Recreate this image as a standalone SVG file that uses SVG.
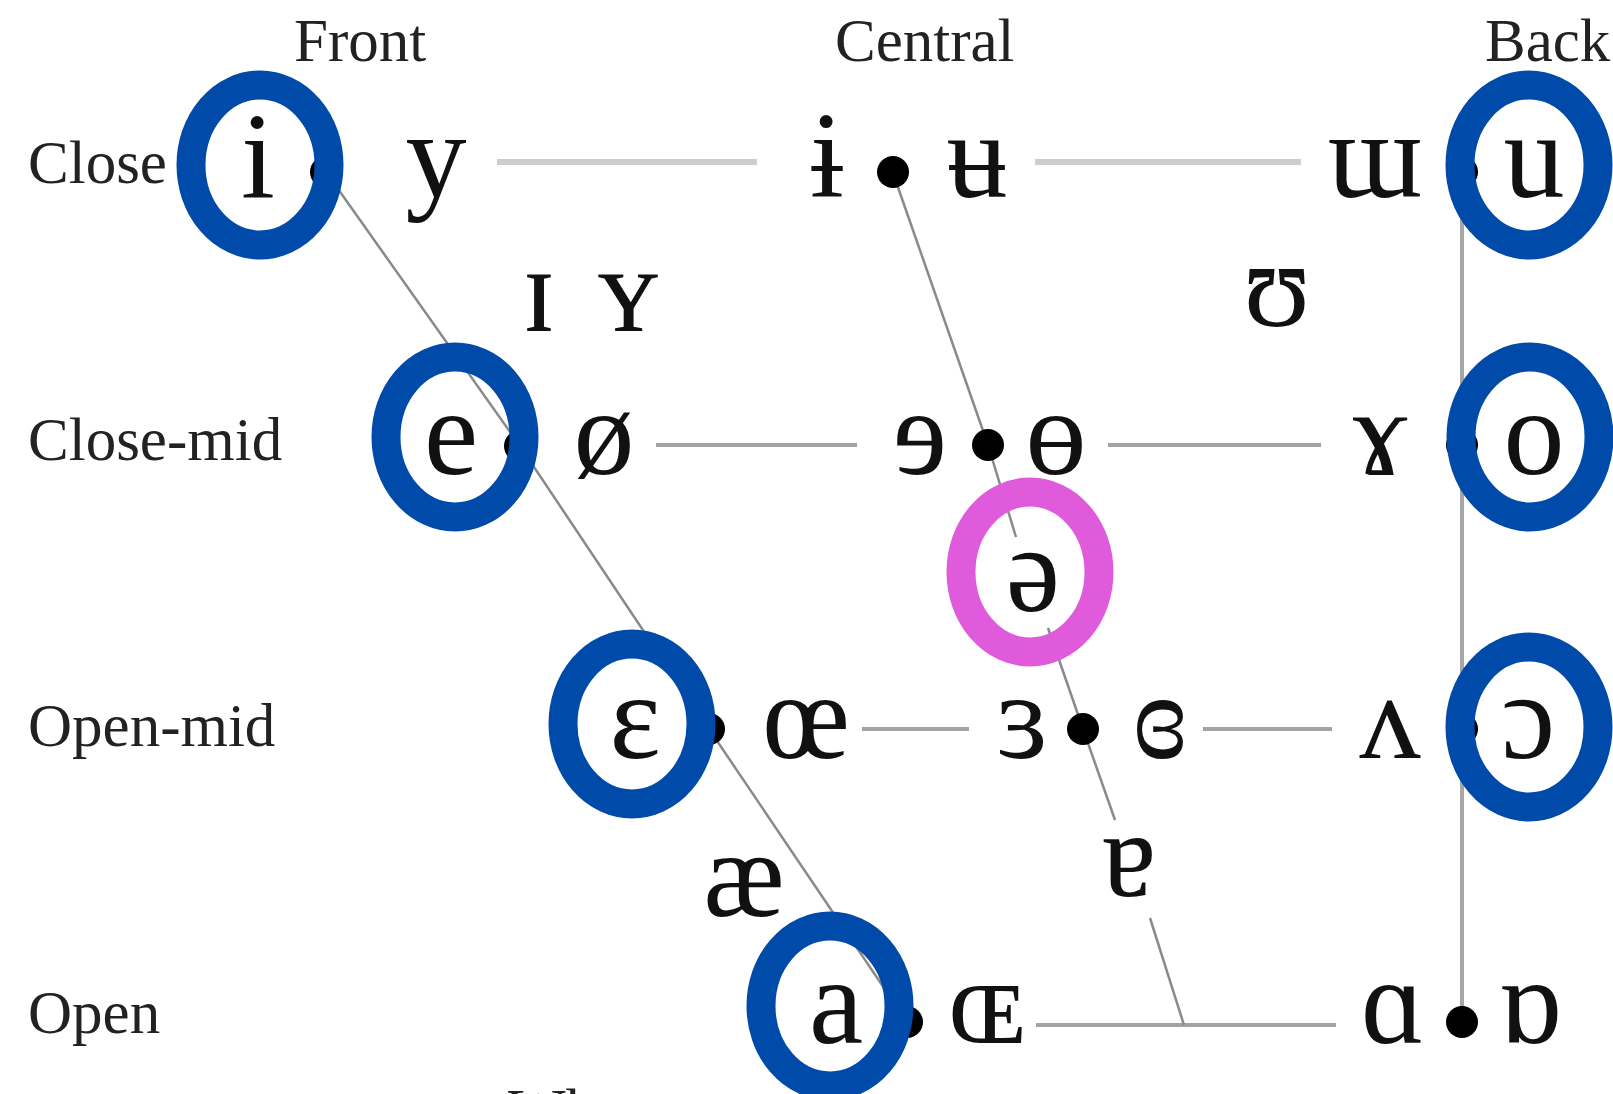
<svg xmlns="http://www.w3.org/2000/svg" width="1613" height="1094" viewBox="0 0 1613 1094">
<style>
.lbl{font-family:"Liberation Serif","DejaVu Serif",serif;font-size:61px;fill:#222}
.v{font-family:"Liberation Serif","DejaVu Serif",serif;font-size:122px;fill:#111;text-anchor:middle}
.row{stroke:#a3a3a3;stroke-width:4;fill:none}
.row0{stroke:#cdcdcd;stroke-width:6;fill:none}
.diag{stroke:#8a8a8a;stroke-width:2.5;fill:none}
.back{stroke:#a6a6a6;stroke-width:4;fill:none}
.dot{fill:#000}
.ring{fill:none;stroke:#004BAA;stroke-width:29}
.ring.pink{stroke:#E05ADC}
</style>
<rect width="1613" height="1094" fill="#fff"/>
<g id="labels">
<text class="lbl" x="294" y="61">Front</text>
<text class="lbl" x="835" y="61">Central</text>
<text class="lbl" x="1485" y="61">Back</text>
<text class="lbl" x="28" y="183">Close</text>
<text class="lbl" x="28" y="460">Close-mid</text>
<text class="lbl" x="28" y="746">Open-mid</text>
<text class="lbl" x="28" y="1033">Open</text>
<text class="lbl" x="508" y="1131">Wh</text>
</g>
<g id="connectors">
<line class="row0" x1="497" y1="162" x2="757" y2="162"/>
<line class="row0" x1="1035" y1="162" x2="1301" y2="162"/>
<line class="row" x1="656" y1="445" x2="857" y2="445"/>
<line class="row" x1="1108" y1="445" x2="1321" y2="445"/>
<line class="row" x1="862" y1="729" x2="969" y2="729"/>
<line class="row" x1="1203" y1="729" x2="1332" y2="729"/>
<line class="row" x1="1036" y1="1025" x2="1336" y2="1025"/>
<polyline class="diag" points="326,172 520,446 709,729 907,1022"/>
<line class="diag" x1="893" y1="173" x2="988" y2="445"/>
<line class="diag" x1="988" y1="445" x2="1016" y2="537"/>
<line class="diag" x1="1048" y1="628" x2="1083" y2="729"/>
<line class="diag" x1="1083" y1="729" x2="1115" y2="820"/>
<line class="diag" x1="1150" y1="918" x2="1184" y2="1025"/>
<line class="back" x1="1462" y1="172" x2="1462" y2="1022"/>
<circle class="dot" cx="326" cy="172" r="16"/>
<circle class="dot" cx="520" cy="446" r="16"/>
<circle class="dot" cx="709" cy="729" r="16"/>
<circle class="dot" cx="907" cy="1022" r="16"/>
<circle class="dot" cx="893" cy="172" r="16"/>
<circle class="dot" cx="988" cy="445" r="16"/>
<circle class="dot" cx="1083" cy="729" r="16"/>
<circle class="dot" cx="1462" cy="172" r="16"/>
<circle class="dot" cx="1462" cy="445" r="16"/>
<circle class="dot" cx="1462" cy="729" r="16"/>
<circle class="dot" cx="1462" cy="1022" r="16"/>
</g>
<g id="v-i"><text class="v" x="258" y="197">i</text><ellipse class="ring" cx="260" cy="165" rx="69" ry="80"/></g>
<g id="v-y"><text class="v" x="436" y="197">y</text></g>
<g id="v-barred-i"><text class="v" x="827" y="197">ɨ</text></g>
<g id="v-barred-u"><text class="v" x="977" y="197">ʉ</text></g>
<g id="v-turned-m"><text class="v" x="1375" y="197">ɯ</text></g>
<g id="v-u"><text class="v" x="1534" y="197">u</text><ellipse class="ring" cx="1529" cy="165" rx="69" ry="80"/></g>
<g id="v-small-i"><text class="v" x="539" y="331">ɪ</text></g>
<g id="v-small-y"><text class="v" x="628" y="331">ʏ</text></g>
<g id="v-upsilon"><text class="v" x="1277" y="326">ʊ</text></g>
<g id="v-e"><text class="v" x="451" y="474">e</text><ellipse class="ring" cx="455" cy="437" rx="69" ry="80"/></g>
<g id="v-o-slash"><text class="v" x="604" y="474">ø</text></g>
<g id="v-rev-e"><text class="v" x="920" y="474">ɘ</text></g>
<g id="v-barred-o"><text class="v" x="1056" y="474">ɵ</text></g>
<g id="v-rams-horns"><text class="v" x="1380" y="474">ɤ</text></g>
<g id="v-o"><text class="v" x="1534" y="474">o</text><ellipse class="ring" cx="1530" cy="437" rx="69" ry="80"/></g>
<g id="v-schwa"><text class="v" x="1033" y="611">ə</text><ellipse class="ring pink" cx="1030" cy="572" rx="69" ry="80"/></g>
<g id="v-epsilon"><text class="v" x="635" y="758">ɛ</text><ellipse class="ring" cx="632" cy="724" rx="69" ry="80"/></g>
<g id="v-oe"><text class="v" x="806" y="758">œ</text></g>
<g id="v-rev-epsilon"><text class="v" x="1022" y="758">ɜ</text></g>
<g id="v-closed-rev-epsilon"><text class="v" x="1160" y="758">ɞ</text></g>
<g id="v-turned-v"><text class="v" x="1390" y="758">ʌ</text></g>
<g id="v-open-o"><text class="v" x="1528" y="758">ɔ</text><ellipse class="ring" cx="1529" cy="727" rx="69" ry="80"/></g>
<g id="v-ae"><text class="v" x="744" y="916">æ</text></g>
<g id="v-turned-a"><text class="v" x="1129" y="896">ɐ</text></g>
<g id="v-a"><text class="v" x="836" y="1043">a</text><ellipse class="ring" cx="830" cy="1006" rx="69" ry="80"/></g>
<g id="v-small-oe"><text class="v" x="987" y="1043">ɶ</text></g>
<g id="v-script-a"><text class="v" x="1393" y="1043">ɑ</text></g>
<g id="v-turned-script-a"><text class="v" x="1530" y="1043">ɒ</text></g>
</svg>
